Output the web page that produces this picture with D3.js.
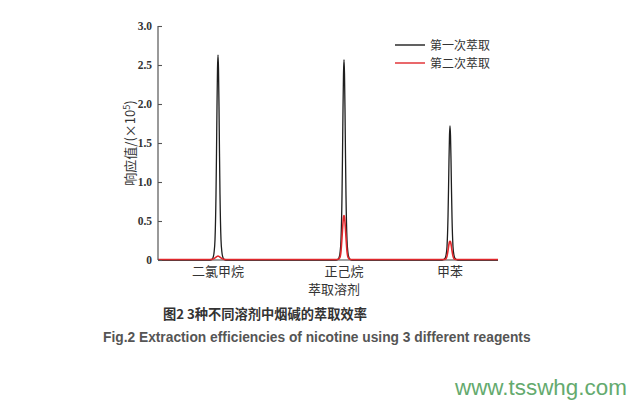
<!DOCTYPE html>
<html><head><meta charset="utf-8">
<script src="https://cdn.jsdelivr.net/npm/d3@7/dist/d3.min.js"></script>
<style>body{margin:0;background:#fff}svg{display:block}</style>
</head><body>
<svg id="c" width="638" height="404"></svg>
<script>
const categories = ['二氯甲烷','正己烷','甲苯'];
const peakCenters = [60, 186, 292];
const offsets = [-8,-6,-5,-4,-3,-2,-1.5,-1,-0.5,0,0.5,1,1.5,2,3,4,5,6,8];
const firstExtraction = [
  [0,0.01,0.03,0.09,0.26,0.84,1.37,1.97,2.45,2.63,2.45,1.97,1.37,0.84,0.26,0.09,0.03,0.01,0],
  [0,0.01,0.03,0.09,0.26,0.82,1.34,1.93,2.39,2.57,2.39,1.93,1.34,0.82,0.26,0.09,0.03,0.01,0],
  [0,0.01,0.02,0.06,0.17,0.55,0.89,1.29,1.60,1.72,1.60,1.29,0.89,0.55,0.17,0.06,0.02,0.01,0]
];
const secondExtraction = [
  [0.006,0.008,0.012,0.018,0.027,0.036,0.041,0.046,0.049,0.05,0.049,0.046,0.041,0.036,0.027,0.018,0.012,0.008,0.006],
  [0.006,0.01,0.015,0.035,0.11,0.285,0.39,0.48,0.55,0.57,0.55,0.48,0.39,0.285,0.11,0.035,0.015,0.01,0.006],
  [0.006,0.006,0.009,0.017,0.05,0.12,0.165,0.205,0.232,0.24,0.232,0.205,0.165,0.12,0.05,0.017,0.009,0.006,0.006]
];
const baselines = [0, 0.006];
const xDomain = [0, 340];
const yTicks = [0, 0.5, 1.0, 1.5, 2.0, 2.5, 3.0];
const yTickLabels = ['0','0.5','1.0','1.5','2.0','2.5','3.0'];
const seriesNames = ['第一次萃取','第二次萃取'];
const seriesColors = ['#1e1e1e','#e0282c'];

function buildSeries(vals, base){
  const pts = [[xDomain[0], base]];
  peakCenters.forEach((c,i)=>{ offsets.forEach((o,j)=>pts.push([c+o, vals[i][j]])); });
  pts.push([xDomain[1], base]);
  return pts;
}

const svg = d3.select('#c');
const L=158, R=498, T=26, B=260;
const x = d3.scaleLinear().domain(xDomain).range([L,R]);
const y = d3.scaleLinear().domain([0,3]).range([B,T]);

// lines
const line = d3.line().x(d=>x(d[0])).y(d=>y(d[1])).curve(d3.curveMonotoneX);
const data = [buildSeries(firstExtraction, baselines[0]), buildSeries(secondExtraction, baselines[1])];
// x axis line
svg.append('line').attr('x1',L).attr('x2',R).attr('y1',B).attr('y2',B).attr('stroke','#444').attr('stroke-width',1.2);
data.forEach((d,i)=>{
  svg.append('path').datum(d).attr('d',line).attr('fill','none')
    .attr('stroke',seriesColors[i]).attr('stroke-width', i===0?1.3:1.6);
});

// y axis
const yAxis = d3.axisRight(y).tickValues(yTicks).tickFormat((d,i)=>yTickLabels[i]).tickSize(4);
const ga = svg.append('g').attr('transform',`translate(${L},0)`).call(yAxis);
ga.select('.domain').attr('stroke','#555').attr('stroke-width',1.2).attr('d',`M0,${B}V${T}`);
ga.selectAll('.tick line').attr('stroke','#555').attr('stroke-width',1.1);
ga.selectAll('.tick text').attr('x',-6).attr('text-anchor','end')
  .style('font-family','"Liberation Serif","DejaVu Serif",serif').style('font-weight','bold')
  .style('font-size','11.5px').attr('fill','#333');

// y label
const yl = svg.append('text').attr('transform','translate(135,143) rotate(-90)')
  .attr('text-anchor','middle').style('font-family','"Noto Sans CJK SC","Liberation Serif",serif')
  .style('font-size','13px').attr('fill','#333');
yl.append('tspan').text('响应值/(×10');
yl.append('tspan').attr('dy',-5).style('font-size','9px').text('5');
yl.append('tspan').attr('dy',5).text(')');

// category labels
categories.forEach((c,i)=>{
  svg.append('text').attr('x',x(peakCenters[i])).attr('y',276).attr('text-anchor','middle')
    .style('font-family','"Noto Sans CJK SC",sans-serif').style('font-size','13px').attr('fill','#333').text(c);
});
svg.append('text').attr('x',334).attr('y',294).attr('text-anchor','middle')
  .style('font-family','"Noto Sans CJK SC",sans-serif').style('font-size','13px').attr('fill','#333').text('萃取溶剂');

// legend
seriesNames.forEach((n,i)=>{
  const ly = 45 + i*18;
  svg.append('line').attr('x1',395).attr('x2',425).attr('y1',ly).attr('y2',ly)
    .attr('stroke',seriesColors[i]).attr('stroke-width',1.4);
  svg.append('text').attr('x',430).attr('y',ly+4.5)
    .style('font-family','"Noto Sans CJK SC",sans-serif').style('font-size','12px').attr('fill','#333').text(n);
});

// captions
function fitText(sel, target){
  const len = sel.node().getComputedTextLength();
  const fs = parseFloat(sel.style('font-size'));
  sel.style('font-size', (fs*target/len)+'px');
}
const c1 = svg.append('text').attr('x',163).attr('y',319)
  .style('font-family','"Noto Sans CJK SC",sans-serif').style('font-weight','bold').style('font-size','13px')
  .attr('fill','#333').text('图2 3种不同溶剂中烟碱的萃取效率');
fitText(c1, 204);
const c2 = svg.append('text').attr('x',103).attr('y',342)
  .style('font-family','"Liberation Sans",Arial,sans-serif').style('font-weight','bold').style('font-size','13px')
  .attr('fill','#555').text('Fig.2 Extraction efficiencies of nicotine using 3 different reagents');
fitText(c2, 428);
const wm = svg.append('text').attr('x',455).attr('y',395)
  .style('font-family','"Liberation Sans",Arial,sans-serif').style('font-size','19px')
  .attr('fill','#64aa6e').text('www.tsswhg.com');
fitText(wm, 172);
</script>
</body></html>
